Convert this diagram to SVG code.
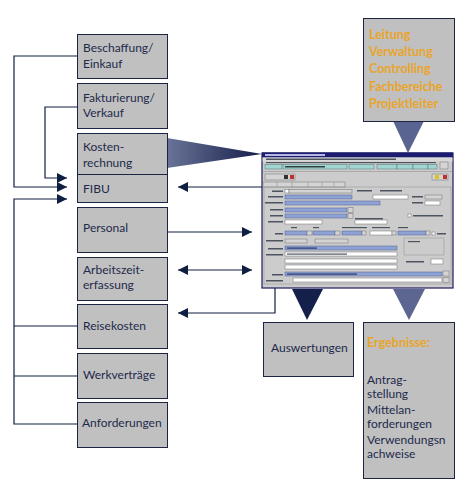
<svg xmlns="http://www.w3.org/2000/svg" width="472" height="492" viewBox="0 0 472 492">
<style>
.box{fill:#c0c0c0;stroke:#1c2444;stroke-width:1}
.t{font-family:Lato,"Open Sans",sans-serif;font-size:12px;fill:#1e2a4c}
.o{font-family:Lato,"Open Sans",sans-serif;font-size:12.5px;font-weight:bold;fill:#e9a52b}
.ln{fill:none;stroke:#0f1f42;stroke-width:1.2}
.bl{fill:#8ea2d6;stroke:#506090;stroke-width:0.5}
.wh{fill:#ffffff;stroke:#707070;stroke-width:0.5}
.gy{fill:#d4d4d4;stroke:#707070;stroke-width:0.5}
.tx{fill:#4c5460}
.tl{fill:#9fd6d2;stroke:#405a5a;stroke-width:0.4}
</style>
<defs>
<marker id="ah" viewBox="0 0 10 10" refX="10" refY="5" markerWidth="10" markerHeight="10" markerUnits="userSpaceOnUse" orient="auto-start-reverse">
<path d="M0,0 L10,5 L0,10 z" fill="#0f1f42"/>
</marker>
<linearGradient id="kg" x1="0" y1="0" x2="1" y2="0">
<stop offset="0" stop-color="#6a7498"/>
<stop offset="1" stop-color="#141c48"/>
</linearGradient>
</defs>
<rect width="472" height="492" fill="#ffffff"/>

<g id="connectors">
<polyline class="ln" points="77,56 14,56 14,187 67,187" marker-end="url(#ah)"/>
<polyline class="ln" points="77,107 45,107 45,178 67,178" marker-end="url(#ah)"/>
<polyline class="ln" points="77,424 14,424 14,199 67,199" marker-end="url(#ah)"/>
<line class="ln" x1="14" y1="326" x2="77" y2="326"/>
<line class="ln" x1="14" y1="376" x2="77" y2="376"/>
<line class="ln" x1="262" y1="187" x2="178" y2="187" marker-end="url(#ah)"/>
<line class="ln" x1="167" y1="232" x2="252" y2="232" marker-end="url(#ah)"/>
<line class="ln" x1="178" y1="270" x2="252" y2="270" marker-start="url(#ah)" marker-end="url(#ah)"/>
<polyline class="ln" points="275,288 275,313 178,313" marker-end="url(#ah)"/>
<polygon points="167,138 262,154 167,168" fill="url(#kg)"/>
<polygon points="393,121 424,121 408,153" fill="#5a6490"/>
<polygon points="292,289 323,289 307,320" fill="#14204a"/>
<polygon points="393,289 425,289 409,320" fill="#5c6690"/>
</g>

<g id="beschaffung"><rect class="box" x="77.5" y="34.5" width="90" height="44"/><text class="t" x="83" y="52">Beschaffung/</text><text class="t" x="83" y="68">Einkauf</text></g>
<g id="fakturierung"><rect class="box" x="77.5" y="83.5" width="90" height="45"/><text class="t" x="83" y="102">Fakturierung/</text><text class="t" x="83" y="117">Verkauf</text></g>
<g id="kostenrechnung"><rect class="box" x="77.5" y="133.5" width="90" height="41"/><text class="t" x="83" y="151">Kosten-</text><text class="t" x="83" y="167">rechnung</text></g>
<g id="fibu"><rect class="box" x="77.5" y="174.5" width="90" height="28"/><text class="t" x="83" y="193">FIBU</text></g>
<g id="personal"><rect class="box" x="77.5" y="207.5" width="90" height="45"/><text class="t" x="83" y="232">Personal</text></g>
<g id="arbeitszeit"><rect class="box" x="77.5" y="257.5" width="90" height="43"/><text class="t" x="83" y="274">Arbeitszeit-</text><text class="t" x="83" y="289">erfassung</text></g>
<g id="reisekosten"><rect class="box" x="77.5" y="304.5" width="90" height="44"/><text class="t" x="83" y="330">Reisekosten</text></g>
<g id="werkvertraege"><rect class="box" x="77.5" y="353.5" width="90" height="45"/><text class="t" x="83" y="379">Werkverträge</text></g>
<g id="anforderungen"><rect class="box" x="77.5" y="402.5" width="90" height="45"/><text class="t" x="82" y="427">Anforderungen</text></g>

<g id="nutzer"><rect class="box" x="363.5" y="18.5" width="91" height="103"/>
<text class="o" x="369" y="39">Leitung</text><text class="o" x="369" y="56">Verwaltung</text><text class="o" x="369" y="73">Controlling</text><text class="o" x="369" y="91">Fachbereiche</text><text class="o" x="369" y="108">Projektleiter</text></g>

<g id="auswertungen"><rect class="box" x="263.5" y="322.5" width="90" height="54"/><text class="t" x="271" y="352">Auswertungen</text></g>

<g id="ergebnisse"><rect class="box" x="363.5" y="322.5" width="91" height="156"/>
<text class="o" x="367" y="347">Ergebnisse:</text>
<text class="t" x="367" y="384">Antrag-</text><text class="t" x="367" y="398">stellung</text>
<text class="t" x="367" y="414">Mittelan-</text><text class="t" x="367" y="428">forderungen</text>
<text class="t" x="367" y="444">Verwendungsn</text><text class="t" x="367" y="458">achweise</text></g>

<g id="screenshot">
<rect x="262" y="153" width="191" height="135" fill="#cccccc" stroke="#1c1c60" stroke-width="1.2"/>
<rect x="262" y="152.5" width="191" height="5" fill="#1c1c70"/>
<rect x="265" y="154" width="60" height="2" fill="#b8b8e8"/>
<rect x="262.6" y="157.5" width="189.8" height="4" fill="#d8d8d8"/>
<rect x="266" y="158.5" width="130" height="1.5" class="tx"/>
<rect x="266" y="162" width="170" height="1.2" class="tx"/>
<rect x="265" y="164.5" width="17" height="4.5" class="tl"/>
<rect x="283" y="164.5" width="64" height="4.5" class="tl"/>
<rect x="285" y="166" width="40" height="1.5" fill="#304040"/>
<rect x="349" y="164.5" width="25" height="4.5" class="tl"/>
<rect x="377" y="164.5" width="20" height="4.5" class="tl"/>
<rect x="397" y="164.5" width="16" height="4.5" class="tl"/>
<rect x="413" y="164.5" width="15" height="4.5" class="tl"/>
<rect x="428" y="164.5" width="9" height="4.5" class="tl"/>
<rect x="440" y="162" width="8" height="7" class="gy"/>
<line x1="262.6" y1="171.5" x2="452.4" y2="171.5" stroke="#888" stroke-width="0.5"/>
<rect x="265" y="174" width="30" height="6" class="gy"/>
<rect x="290" y="175" width="4" height="4" fill="#c03030"/>
<rect x="284" y="175" width="4" height="4" fill="#303030"/>
<rect x="432" y="174" width="16" height="6" class="gy"/>
<rect x="435" y="175" width="4" height="4" fill="#e0c020"/>
<rect x="443" y="175" width="4" height="4" fill="#c03030"/>
<rect x="263" y="182" width="82" height="5" class="gy"/>
<line x1="277" y1="182" x2="277" y2="187" stroke="#707070" stroke-width="0.4"/>
<line x1="292" y1="182" x2="292" y2="187" stroke="#707070" stroke-width="0.4"/>
<line x1="308" y1="182" x2="308" y2="187" stroke="#707070" stroke-width="0.4"/>
<line x1="322" y1="182" x2="322" y2="187" stroke="#707070" stroke-width="0.4"/>
<line x1="334" y1="182" x2="334" y2="187" stroke="#707070" stroke-width="0.4"/>
<rect x="264" y="187" width="187" height="97" fill="none" stroke="#909090" stroke-width="0.5"/>
<rect x="272" y="190.5" width="11" height="1.5" class="tx"/>
<rect x="285" y="189.5" width="4" height="3.5" class="wh"/><rect x="289" y="189.5" width="63" height="3.5" class="gy"/>
<rect x="357" y="190" width="15" height="1.5" class="tx"/><rect x="380" y="190" width="22" height="1.5" class="tx"/>
<rect x="268" y="196" width="15" height="1.5" class="tx"/>
<rect x="285" y="195" width="67" height="4" class="bl"/><rect x="373" y="195" width="35" height="4" class="wh"/><rect x="412" y="196" width="11" height="1.5" class="tx"/><rect x="425" y="195" width="17" height="4" class="gy"/>
<rect x="265" y="202" width="18" height="1.5" class="tx"/>
<rect x="285" y="201" width="95" height="4" class="bl"/><rect x="412" y="202" width="11" height="1.5" class="tx"/><rect x="425" y="201" width="15" height="4" class="wh"/>
<rect x="270" y="209" width="13" height="1.5" class="tx"/>
<rect x="285" y="208" width="62" height="4" class="bl"/><rect x="348" y="207.5" width="5" height="5" class="gy"/>
<rect x="270" y="215" width="13" height="1.5" class="tx"/>
<rect x="285" y="214" width="62" height="4" class="bl"/><rect x="348" y="213.5" width="5" height="5" class="gy"/>
<rect x="355" y="218" width="28" height="1.5" class="tx"/><rect x="408" y="214" width="3" height="3" class="wh"/><rect x="413" y="215" width="30" height="1.5" class="tx"/>
<rect x="268" y="221" width="15" height="1.5" class="tx"/>
<rect x="285" y="220" width="37" height="4" class="wh"/><rect x="355" y="220" width="32" height="4" class="wh"/>
<rect x="291" y="227" width="6" height="1.2" class="tx"/><rect x="313" y="227" width="6" height="1.2" class="tx"/><rect x="342" y="227" width="25" height="1.2" class="tx"/><rect x="372" y="227" width="18" height="1.2" class="tx"/><rect x="398" y="227" width="10" height="1.2" class="tx"/>
<rect x="275" y="233" width="8" height="1.5" class="tx"/>
<rect x="285" y="231" width="22" height="4" class="bl"/><rect x="307" y="231" width="5" height="4" class="gy"/>
<rect x="313" y="231" width="22" height="4" class="bl"/><rect x="335" y="231" width="5" height="4" class="gy"/>
<rect x="342" y="231" width="20" height="4" class="bl"/><rect x="362" y="231" width="4" height="4" class="gy"/>
<rect x="370" y="231" width="22" height="4" class="wh"/><rect x="392" y="231" width="4" height="4" class="gy"/>
<rect x="398" y="231" width="28" height="4" class="bl"/><rect x="426" y="231" width="4" height="4" class="gy"/><rect x="432" y="232" width="3" height="3" class="wh"/><rect x="437" y="233" width="9" height="1.5" class="tx"/>
<rect x="266" y="240" width="17" height="1.5" class="tx"/>
<rect x="285" y="239" width="22" height="4" class="gy"/><rect x="315" y="239" width="33" height="4" class="gy"/>
<rect x="404" y="238" width="40" height="17" fill="none" stroke="#909090" stroke-width="0.5"/>
<rect x="408" y="241" width="12" height="1.2" class="tx"/>
<rect x="268" y="248" width="15" height="1.5" class="tx"/>
<rect x="285" y="246" width="112" height="4" class="bl"/><rect x="287" y="247.5" width="30" height="1.2" fill="#303a60"/>
<rect x="266" y="254" width="17" height="1.5" class="tx"/>
<rect x="285" y="252" width="112" height="4" class="wh"/><rect x="287" y="253.5" width="60" height="1.2" class="tx"/>
<rect x="285" y="259" width="112" height="4" class="wh"/>
<rect x="406" y="261" width="18" height="1.5" class="tx"/><rect x="431" y="259" width="12" height="5" class="wh"/>
<rect x="285" y="265" width="112" height="4" class="wh"/>
<rect x="272" y="274" width="11" height="1.5" class="tx"/>
<rect x="285" y="272" width="157" height="4" class="bl"/><rect x="287" y="273.5" width="70" height="1.2" fill="#303a60"/><rect x="443" y="271" width="6" height="5" class="gy"/>
<rect x="266" y="280" width="17" height="1.5" class="tx"/>
<rect x="293" y="278" width="149" height="4" class="wh"/><rect x="443" y="277.5" width="6" height="5" class="gy"/>
</g>
</svg>
